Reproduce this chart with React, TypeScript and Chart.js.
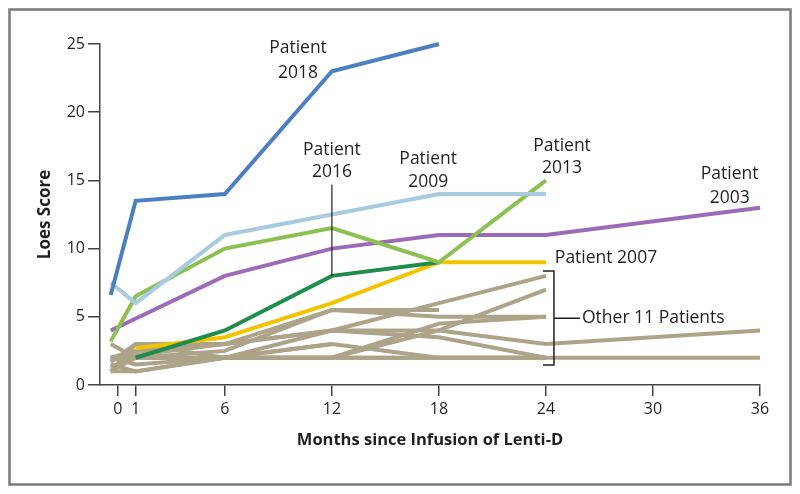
import React, { useEffect, useRef } from "react";
import { Chart, registerables } from "chart.js";

Chart.register(...registerables);

// Visit months (baseline visit drawn just left of month 0)
const visitMonths = [-0.4, 1, 6, 12, 18, 24, 36];
const xTickValues = [0, 1, 6, 12, 18, 24, 30, 36];

// Highlighted patients
const p2018 = [6.6, 13.5, 14, 23, 25, null, null];
const p2009 = [7.5, 6.0, 11, 12.5, 14, 14, null];
const p2013 = [3.2, 6.5, 10, 11.5, 9, 15, null];
const p2003 = [4.0, null, 8, 10, 11, 11, 13];
const p2016 = [null, 2.0, 4.0, 8, 9, null, null];
const p2007 = [null, 2.7, 3.5, 6, 9, 9, null];

// Other 11 patients
const other1 = [2.0, 2.2, 3.0, 4.0, 6.0, 8.0, null];
const other2 = [1.0, 1.0, 2.0, 2.0, 4.0, 7.0, null];
const other3 = [1.7, 3.0, 3.0, 5.5, 5.5, null, null];
const other4 = [2.0, 2.0, 2.5, 5.5, 5.0, 5.0, null];
const other5 = [1.3, 2.0, 2.0, 4.0, 4.0, 3.0, 4.0];
const other6 = [1.0, 3.0, 2.0, 2.0, 2.0, 2.0, 2.0];
const other7 = [3.0, 2.0, 2.0, 3.0, 2.0, 2.0, null];
const other8 = [1.5, 1.0, 2.0, 2.0, 4.5, 5.0, null];
const other9 = [2.0, 2.5, 3.0, 4.0, 3.5, 2.0, null];
const other10 = [1.0, 2.0, 2.0, 3.0, null, null, null];
const other11 = [2.0, 1.5, 2.0, 2.0, 2.0, 2.0, null];

const highlighted = [
  { name: "Patient 2018", values: p2018, color: "#4b7fc2" },
  { name: "Patient 2009", values: p2009, color: "#a8cbe0" },
  { name: "Patient 2013", values: p2013, color: "#8cc152" },
  { name: "Patient 2003", values: p2003, color: "#9b6bb7" },
  { name: "Patient 2016", values: p2016, color: "#1f8b4d" },
  { name: "Patient 2007", values: p2007, color: "#f4c300" },
];
const others = [other1, other2, other3, other4, other5, other6, other7, other8, other9, other10, other11];
const GRAY = "#aca389";

const FONT = "'Open Sans', 'Noto Sans', sans-serif";
const TEXT = "#231f20";

const toPoints = (vals: (number | null)[]) =>
  visitMonths.map((m, i) => ({ x: m, y: vals[i] })).filter((p) => p.y !== null);

const annotationPlugin = {
  id: "annotations",
  beforeDraw(chart: any) {
    const ctx = chart.ctx;
    ctx.save();
    ctx.strokeStyle = "#7a7a7a";
    ctx.lineWidth = 2.5;
    ctx.strokeRect(9.5, 9.5, 781, 475);
    ctx.restore();
  },
  afterDraw(chart: any) {
    const ctx = chart.ctx;
    const xs = chart.scales.x;
    const ys = chart.scales.y;
    const X = (v: number) => xs.getPixelForValue(v);
    const Y = (v: number) => ys.getPixelForValue(v);
    ctx.save();
    ctx.fillStyle = TEXT;
    ctx.strokeStyle = TEXT;
    ctx.font = `17.5px ${FONT}`;
    ctx.textAlign = "center";
    ctx.textBaseline = "middle";
    const two = (mx: number, v1: number, v2: number, l2: string) => {
      ctx.fillText("Patient", X(mx), Y(v1));
      ctx.fillText(l2, X(mx), Y(v2));
    };
    two(10.1, 24.7, 22.9, "2018");
    two(12.0, 17.2, 15.6, "2016");
    two(17.4, 16.6, 14.9, "2009");
    two(24.9, 17.5, 15.9, "2013");
    two(34.3, 15.5, 13.7, "2003");
    // leader line for 2016
    ctx.lineWidth = 1.2;
    ctx.beginPath();
    ctx.moveTo(X(12), Y(14.7));
    ctx.lineTo(X(12), Y(8));
    ctx.stroke();
    ctx.textAlign = "left";
    ctx.fillText("Patient 2007", X(24.5), Y(9.3));
    // bracket
    const bx = X(24.45);
    ctx.lineWidth = 1.5;
    ctx.beginPath();
    ctx.moveTo(bx - 11, Y(8.36));
    ctx.lineTo(bx, Y(8.36));
    ctx.lineTo(bx, Y(1.47));
    ctx.lineTo(bx - 11, Y(1.47));
    ctx.moveTo(bx, Y(4.9));
    ctx.lineTo(bx + 26, Y(4.9));
    ctx.stroke();
    ctx.fillText("Other 11 Patients", bx + 28, Y(4.9));
    ctx.restore();
  },
};

export default function App() {
  const ref = useRef<HTMLCanvasElement>(null);
  useEffect(() => {
    document.body.style.margin = "0";
    const datasets: any[] = [];
    highlighted.forEach((h) =>
      datasets.push({
        label: h.name,
        data: toPoints(h.values),
        borderColor: h.color,
        backgroundColor: h.color,
        borderWidth: 4,
        pointRadius: 0,
        tension: 0,
        spanGaps: true,
        borderCapStyle: "butt",
      })
    );
    others.forEach((o, i) =>
      datasets.push({
        label: `Other ${i + 1}`,
        data: toPoints(o),
        borderColor: GRAY,
        backgroundColor: GRAY,
        borderWidth: 4,
        pointRadius: 0,
        tension: 0,
        spanGaps: true,
      })
    );
    const chart = new Chart(ref.current!, {
      type: "line",
      data: { datasets },
      plugins: [annotationPlugin],
      options: {
        responsive: false,
        animation: false,
        clip: false as any,
        layout: { padding: { left: 0, right: 40, top: 44, bottom: 0 } },
        plugins: { legend: { display: false }, tooltip: { enabled: false } },
        scales: {
          x: {
            type: "linear",
            min: -1,
            max: 36,
            afterBuildTicks: (s: any) => {
              s.ticks = xTickValues.map((v) => ({ value: v }));
            },
            afterFit: (s: any) => {
              s.height = 109;
            },
            ticks: {
              autoSkip: false,
              maxRotation: 0,
              padding: 4,
              color: TEXT,
              font: { family: FONT, size: 16 },
              callback: (v: any) => String(v),
            },
            grid: { drawOnChartArea: false, drawTicks: true, tickLength: 11, color: "#444", lineWidth: 1.5 },
            border: { display: true, color: "#444", width: 1.5 },
            title: {
              display: true,
              text: "Months since Infusion of Lenti-D",
              color: TEXT,
              font: { family: FONT, size: 16.5, weight: "bold" },
              padding: { top: 0, bottom: 44 },
            },
          },
          y: {
            type: "linear",
            min: 0,
            max: 25,
            afterFit: (s: any) => {
              s.width = 100;
            },
            ticks: {
              stepSize: 5,
              padding: 3,
              color: TEXT,
              font: { family: FONT, size: 16 },
            },
            grid: { drawOnChartArea: false, drawTicks: true, tickLength: 12, color: "#444", lineWidth: 1.5 },
            border: { display: true, color: "#444", width: 1.5 },
            title: {
              display: true,
              text: "Loes Score",
              color: TEXT,
              font: { family: FONT, size: 17, weight: "bold" },
              padding: { top: 35, bottom: 0 },
            },
          },
        },
      },
    });
    return () => chart.destroy();
  }, []);
  return <canvas ref={ref} width={800} height={494} style={{ display: "block" }} />;
}
